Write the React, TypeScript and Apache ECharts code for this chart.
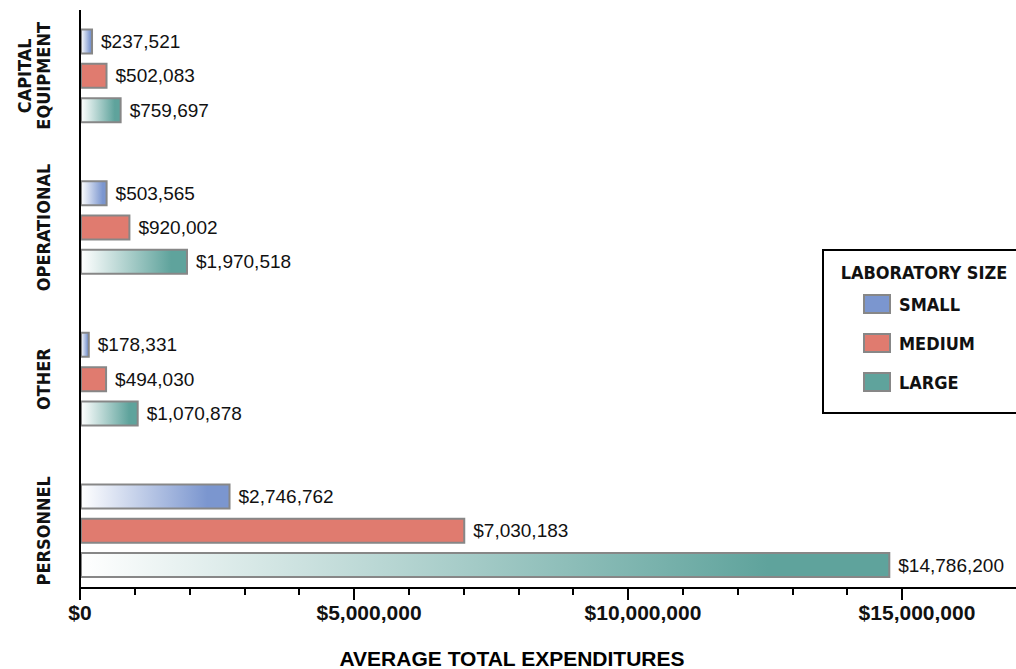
import React, { useEffect, useRef } from "react";
import * as echarts from "echarts";

const categories = ["CAPITAL\nEQUIPMENT", "OPERATIONAL", "OTHER", "PERSONNEL"];
const seriesNames = ["SMALL", "MEDIUM", "LARGE"];
const smallValues = [237521, 503565, 178331, 2746762];
const mediumValues = [502083, 920002, 494030, 7030183];
const largeValues = [759697, 1970518, 1070878, 14786200];
const majorTicks = [0, 5000000, 10000000, 15000000];
const minorTicks = [0, 1000000, 2000000, 3000000, 4000000, 5000000, 6000000, 7000000, 8000000, 9000000, 10000000, 11000000, 12000000, 13000000, 14000000, 15000000];

const BLUE = "#7b96cf";
const RED = "#e07b6f";
const TEAL = "#5fa39c";
const BORDER = "#878787";
const NARROW = '"DejaVu Sans Condensed", "DejaVu Sans", sans-serif';
const WIDE = '"Liberation Sans", Arial, sans-serif';

const fmt = (v: number) => "$" + v.toLocaleString("en-US");

export default function App() {
  const ref = useRef<HTMLDivElement>(null);
  useEffect(() => {
    if (!ref.current) return;
    const chart = echarts.init(ref.current, null, { renderer: "svg" });
    const grad = (c: string) =>
      new echarts.graphic.LinearGradient(0, 0, 1, 0, [
        { offset: 0, color: "#ffffff" },
        { offset: 0.85, color: c },
        { offset: 1, color: c },
      ]);
    const XMAX = 17080000;
    const label = {
      show: true,
      position: "right",
      distance: 8,
      fontFamily: WIDE,
      fontSize: 19,
      fontWeight: "normal",
      color: "#111",
      formatter: (p: any) => fmt(p.value),
    };
    const mk = (name: string, data: number[], color: any) => ({
      name,
      type: "bar",
      data,
      barWidth: 26,
      barGap: "32%",
      itemStyle: { color, borderColor: BORDER, borderWidth: 2 },
      label,
      emphasis: { disabled: true },
    });
    chart.setOption({
      animation: false,
      grid: { left: 80, right: 0, top: -6.1, bottom: 62.4, containLabel: false },
      legend: {
        orient: "vertical",
        left: 863,
        top: 294,
        padding: 0,
        itemWidth: 26,
        itemHeight: 18,
        itemGap: 19,
        icon: "rect",
        selectedMode: false,
        itemStyle: { borderColor: BORDER, borderWidth: 2 },
        textStyle: { fontFamily: NARROW, fontSize: 18, fontWeight: "bold", color: "#111", padding: [0, 0, 0, 4] },
        data: [
          { name: "SMALL", itemStyle: { color: BLUE } },
          { name: "MEDIUM", itemStyle: { color: RED } },
          { name: "LARGE", itemStyle: { color: TEAL } },
        ],
      },
      xAxis: [
        {
          type: "value",
          min: 0,
          max: XMAX,
          interval: 5000000,
          position: "bottom",
          offset: -18.6,
          axisLine: { show: true, lineStyle: { color: "#000", width: 2 } },
          axisTick: { show: true, length: 12, lineStyle: { color: "#000", width: 2 }, customValues: majorTicks },
          axisLabel: {
            customValues: majorTicks,
            margin: 14,
            fontFamily: WIDE,
            fontSize: 21,
            fontWeight: "bold",
            color: "#111",
            formatter: (v: number) => (v === 0 ? "{z|" + fmt(v) + "}" : "{r|" + fmt(v) + "}"),
            rich: {
              z: { fontFamily: WIDE, fontSize: 21, fontWeight: "bold", color: "#111" },
              r: { fontFamily: WIDE, fontSize: 21, fontWeight: "bold", color: "#111", padding: [0, 0, 0, 30] },
            },
          },
          splitLine: { show: false },
        },
        {
          type: "value",
          min: 0,
          max: XMAX,
          interval: 1000000,
          position: "bottom",
          offset: -18.6,
          axisLine: { show: false },
          axisTick: { show: true, length: 7, lineStyle: { color: "#000", width: 2 }, customValues: minorTicks },
          axisLabel: { show: false },
          splitLine: { show: false },
        },
      ],
      yAxis: {
        type: "category",
        data: categories,
        inverse: true,
        axisLine: { show: false },
        axisTick: { show: false },
        axisLabel: {
          interval: 0,
          rotate: 90,
          margin: 27,
          fontFamily: NARROW,
          fontSize: 18,
          fontWeight: "bold",
          color: "#111",
          lineHeight: 19,
        },
      },
      graphic: [
        { type: "line", shape: { x1: 80, y1: 10, x2: 80, y2: 589 }, style: { stroke: "#000", lineWidth: 2 }, z: 10 },
        { type: "rect", shape: { x: 823, y: 250, width: 200, height: 163 }, style: { fill: "#fff", stroke: "#000", lineWidth: 2 }, z: 0 },
        {
          type: "text",
          x: 924,
          y: 272,
          style: { text: "LABORATORY SIZE", fontFamily: NARROW, fontSize: 18, fontWeight: "bold", fill: "#111", align: "center", verticalAlign: "middle" },
          z: 1,
        },
        {
          type: "text",
          x: 512,
          y: 658,
          style: { text: "AVERAGE TOTAL EXPENDITURES", fontFamily: WIDE, fontSize: 21, fontWeight: "bold", fill: "#000", align: "center", verticalAlign: "middle" },
        },
      ],
      series: [
        mk(seriesNames[0], smallValues, grad(BLUE)),
        mk(seriesNames[1], mediumValues, RED),
        mk(seriesNames[2], largeValues, grad(TEAL)),
      ],
    });
    return () => chart.dispose();
  }, []);
  return <div ref={ref} style={{ position: "fixed", left: 0, top: 0, width: 1016, height: 669, background: "#fff" }} />;
}
